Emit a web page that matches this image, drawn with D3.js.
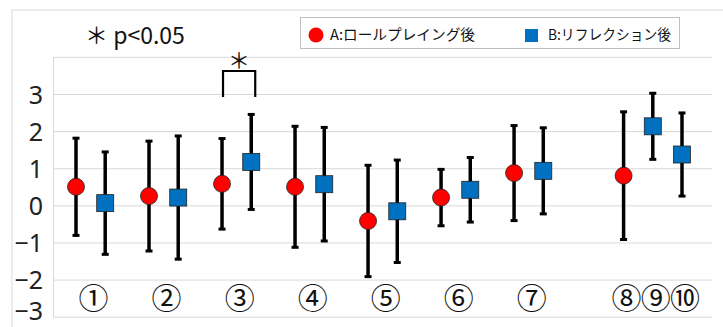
<!DOCTYPE html>
<html lang="ja">
<head>
<meta charset="UTF-8">
<title>error bar chart</title>
<script src="https://d3js.org/d3.v7.min.js"></script>
<style>
  body { margin: 0; background: #fff; }
  svg { display: block; }
</style>
</head>
<body>
<div id="chart"></div>
<script>
  // values
  const labels = ['①', '②', '③', '④', '⑤', '⑥', '⑦', '⑧', '⑨', '⑩'];
  const meanA = [0.50, 0.25, 0.58, 0.50, -0.42, 0.21, 0.87, 0.80, null, null];
  const errA  = [1.31, 1.48, 1.22, 1.63, 1.50, 0.76, 1.28, 1.72, null, null];
  const meanB = [0.06, 0.21, 1.17, 0.57, -0.16, 0.42, 0.93, null, 2.13, 1.37];
  const errB  = [1.38, 1.66, 1.28, 1.53, 1.38, 0.87, 1.16, null, 0.89, 1.12];
  const yTicks = [-3, -2, -1, 0, 1, 2, 3];
  const seriesNames = ['A:ロールプレイング後', 'B:リフレクション後'];
  const sig = { index: 2, top: 3.62, bottom: 2.92, mark: '＊', note: '＊ p<0.05' };

  const width = 723, height = 327;

  const svg = d3.select('#chart').append('svg')
    .attr('width', width)
    .attr('height', height);

  // slot layout: paired items take 2.5 slots, single items 1 slot after an extra gap
  function slot(i, series) {
    if (i < 7) return 2.5 * i + (series === 'A' ? 0 : 1);
    return 18.75 + (i - 7);
  }
  function labelSlot(i) {
    return i < 7 ? 2.5 * i + 0.5 : slot(i);
  }

  const x = d3.scaleLinear().domain([0, 20.75]).range([76, 682]);
  const y = d3.scaleLinear().domain([-3, 4]).range([316.7, 56.9]);

  // outer chart frame
  svg.append('rect')
    .attr('x', 12).attr('y', 10)
    .attr('width', width).attr('height', height)
    .attr('fill', 'none')
    .attr('stroke', '#d9d9d9');

  // gridlines
  svg.append('g')
    .selectAll('line')
    .data(d3.range(-3, 5))
    .enter().append('line')
    .attr('x1', 53).attr('x2', 712)
    .attr('y1', d => y(d) + 0.5).attr('y2', d => y(d) + 0.5)
    .attr('stroke', '#d9d9d9')
    .attr('stroke-width', 1);

  svg.append('line')
    .attr('x1', 53.5).attr('x2', 53.5)
    .attr('y1', y(4)).attr('y2', y(-3) + 1)
    .attr('stroke', '#d9d9d9');

  // y axis labels (the lowest one is nudged up to stay inside the frame)
  const yAxis = d3.axisLeft(y).tickValues(yTicks).tickSize(0).tickPadding(10)
    .tickFormat(d3.format('d'));
  const ya = svg.append('g').attr('transform', 'translate(53,0)').call(yAxis);
  ya.select('.domain').remove();
  ya.selectAll('text')
    .attr('font-family', '"Noto Sans", sans-serif')
    .attr('font-size', 25)
    .attr('fill', '#222')
    .attr('dy', d => d === -3 ? '0.1em' : '0.36em');

  // category labels
  svg.append('g')
    .selectAll('text')
    .data(labels)
    .enter().append('text')
    .attr('x', (d, i) => x(labelSlot(i)) + 3)
    .attr('y', y(-2.5))
    .attr('text-anchor', 'middle')
    .attr('dy', '0.36em')
    .attr('font-family', '"Noto Sans CJK JP", sans-serif')
    .attr('font-size', 30)
    .attr('fill', '#111')
    .text(d => d);

  const pointsA = meanA.map((m, i) => ({ i, m, e: errA[i] })).filter(d => d.m !== null);
  const pointsB = meanB.map((m, i) => ({ i, m, e: errB[i] })).filter(d => d.m !== null);

  function drawErrors(points, series) {
    const g = svg.append('g');
    points.forEach(d => {
      const cx = x(slot(d.i, series));
      g.append('line')
        .attr('x1', cx).attr('x2', cx)
        .attr('y1', y(d.m + d.e)).attr('y2', y(d.m - d.e))
        .attr('stroke', '#000').attr('stroke-width', 3.5);
      [d.m + d.e, d.m - d.e].forEach(v => {
        g.append('line')
          .attr('x1', cx - 3.5).attr('x2', cx + 3.5)
          .attr('y1', y(v)).attr('y2', y(v))
          .attr('stroke', '#000').attr('stroke-width', 3);
      });
    });
  }
  drawErrors(pointsA, 'A');
  drawErrors(pointsB, 'B');

  svg.append('g')
    .selectAll('circle')
    .data(pointsA)
    .enter().append('circle')
    .attr('cx', d => x(slot(d.i, 'A')))
    .attr('cy', d => y(d.m))
    .attr('r', 8.5)
    .attr('fill', '#ff0000')
    .attr('stroke', '#222')
    .attr('stroke-width', 0.8);

  svg.append('g')
    .selectAll('rect')
    .data(pointsB)
    .enter().append('rect')
    .attr('x', d => x(slot(d.i, 'B')) - 8.5)
    .attr('y', d => y(d.m) - 8.5)
    .attr('width', 17).attr('height', 17)
    .attr('fill', '#0070c0')
    .attr('stroke', '#222')
    .attr('stroke-width', 0.8);

  // significance bracket
  const bx1 = x(slot(sig.index, 'A')) + 1;
  const bx2 = x(slot(sig.index, 'B')) + 4;
  svg.append('path')
    .attr('d', `M${bx1},${y(sig.bottom)}V${y(sig.top)}H${bx2}V${y(sig.bottom)}`)
    .attr('fill', 'none')
    .attr('stroke', '#000')
    .attr('stroke-width', 2.2);
  svg.append('text')
    .attr('x', (bx1 + bx2) / 2)
    .attr('y', y(sig.top) - 3)
    .attr('text-anchor', 'middle')
    .attr('font-family', '"Noto Sans CJK JP", sans-serif')
    .attr('font-size', 22)
    .attr('fill', '#111')
    .text(sig.mark);

  svg.append('text')
    .attr('x', 85)
    .attr('y', 44)
    .attr('font-family', '"Noto Sans CJK JP", sans-serif')
    .attr('font-size', 23)
    .attr('fill', '#111')
    .text(sig.note);

  // legend
  const legend = svg.append('g');
  legend.append('rect')
    .attr('x', 300.5).attr('y', 17.5)
    .attr('width', 379).attr('height', 31)
    .attr('fill', '#fff')
    .attr('stroke', '#bfbfbf');
  legend.append('circle')
    .attr('cx', 316).attr('cy', 35).attr('r', 7.5)
    .attr('fill', '#ff0000');
  legend.append('rect')
    .attr('x', 525).attr('y', 29).attr('width', 13).attr('height', 13)
    .attr('fill', '#0070c0');
  legend.selectAll('text.lg')
    .data(seriesNames)
    .enter().append('text')
    .attr('class', 'lg')
    .attr('x', (d, i) => i === 0 ? 330 : 548)
    .attr('y', 35)
    .attr('dy', '0.36em')
    .attr('font-family', '"Noto Sans CJK JP", sans-serif')
    .attr('font-size', 14.5)
    .attr('textLength', (d, i) => i === 0 ? 145 : 123)
    .attr('lengthAdjust', 'spacingAndGlyphs')
    .attr('fill', '#111')
    .text(d => d);
</script>
</body>
</html>
